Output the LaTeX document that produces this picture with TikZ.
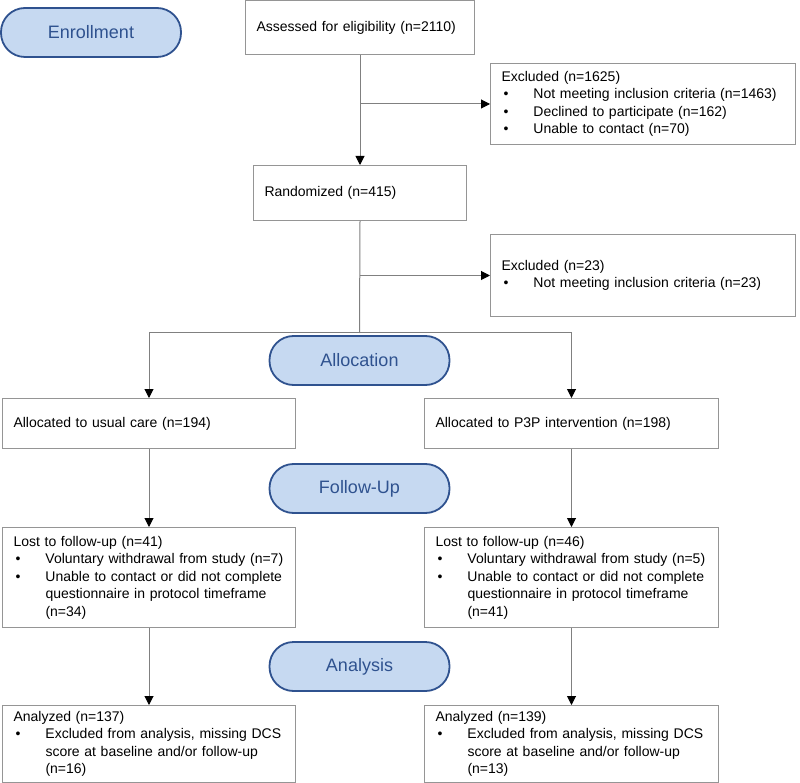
\documentclass[tikz,border=0pt]{standalone}
\usepackage{fontspec}
\setmainfont{Liberation Sans}
\usepackage{tikz}
\usetikzlibrary{arrows.meta}
\definecolor{boxgray}{HTML}{959595}
\definecolor{linegray}{HTML}{808080}
\definecolor{stagefill}{HTML}{C6D9F1}
\definecolor{stageblue}{HTML}{2F528F}
\newcommand{\blt}{\makebox[32pt][l]{\hspace{2pt}\textbullet}}
\newcommand{\ind}{\hspace*{32pt}}
\begin{document}
\begin{tikzpicture}[x=1pt,y=-1pt]
\tikzstyle{box}=[draw=boxgray,line width=1pt,rectangle,anchor=north west,align=left,inner xsep=11pt,inner ysep=0pt,font=\fontsize{14}{17.5}\selectfont]
\tikzstyle{stage}=[draw=stageblue,fill=stagefill,line width=1.8pt,rectangle,rounded corners=24pt,minimum width=180pt,minimum height=49pt,text=stageblue,font=\fontsize{18}{22}\selectfont]
\tikzstyle{link}=[draw=linegray,line width=1pt]
\tikzstyle{arr}=[link,-{Triangle[length=9pt,width=9pt,black]}]
\useasboundingbox (0,0) rectangle (800,783);
\node[stage] (enroll) at (91,32.5) {Enrollment};
\node[stage] (allocation) at (359.5,360.5) {Allocation};
\node[stage] (followup) at (359.5,488.5) {Follow-Up};
\node[stage] (analysis) at (359.5,666.5) {Analysis};
\node[box,text width=207pt,minimum height=54pt] (assess) at (245,0) {Assessed for eligibility (n=2110)};
\node[box,text width=283pt,minimum height=81pt] (excl1) at (490,63) {Excluded (n=1625)\\
\blt Not meeting inclusion criteria (n=1463)\\
\blt Declined to participate (n=162)\\
\blt Unable to contact (n=70)};
\node[box,text width=191pt,minimum height=55pt] (rand) at (253,165) {Randomized (n=415)};
\node[box,text width=283pt,minimum height=82pt] (excl2) at (490,234) {Excluded (n=23)\\
\blt Not meeting inclusion criteria (n=23)};
\node[box,text width=271pt,minimum height=50pt] (alloc1) at (2,398) {Allocated to usual care (n=194)};
\node[box,text width=272pt,minimum height=50pt] (alloc2) at (424,398) {Allocated to P3P intervention (n=198)};
\node[box,text width=271pt,minimum height=100pt] (lost1) at (2,527) {Lost to follow-up (n=41)\\
\blt Voluntary withdrawal from study (n=7)\\
\blt Unable to contact or did not complete\\
\ind questionnaire in protocol timeframe\\
\ind (n=34)};
\node[box,text width=272pt,minimum height=100pt] (lost2) at (424,527) {Lost to follow-up (n=46)\\
\blt Voluntary withdrawal from study (n=5)\\
\blt Unable to contact or did not complete\\
\ind questionnaire in protocol timeframe\\
\ind (n=41)};
\node[box,text width=271pt,minimum height=77pt] (anal1) at (2,705) {Analyzed (n=137)\\
\blt Excluded from analysis, missing DCS\\
\ind score at baseline and/or follow-up\\
\ind (n=16)};
\node[box,text width=272pt,minimum height=77pt] (anal2) at (424,705) {Analyzed (n=139)\\
\blt Excluded from analysis, missing DCS\\
\ind score at baseline and/or follow-up\\
\ind (n=13)};
\coordinate (split) at (359.5,333);
\draw[arr] (assess.south) -- (rand.north);
\draw[arr] (assess.south |- excl1.west) -- (excl1.west);
\draw[link] (rand.south) -- (split);
\draw[arr] (rand.south |- excl2.west) -- (excl2.west);
\draw[link] (split -| alloc1.north) -- (split -| alloc2.north);
\draw[arr] (split -| alloc1.north) -- (alloc1.north);
\draw[arr] (split -| alloc2.north) -- (alloc2.north);
\draw[arr] (alloc1.south) -- (lost1.north);
\draw[arr] (alloc2.south) -- (lost2.north);
\draw[arr] (lost1.south) -- (anal1.north);
\draw[arr] (lost2.south) -- (anal2.north);
\end{tikzpicture}
\end{document}
